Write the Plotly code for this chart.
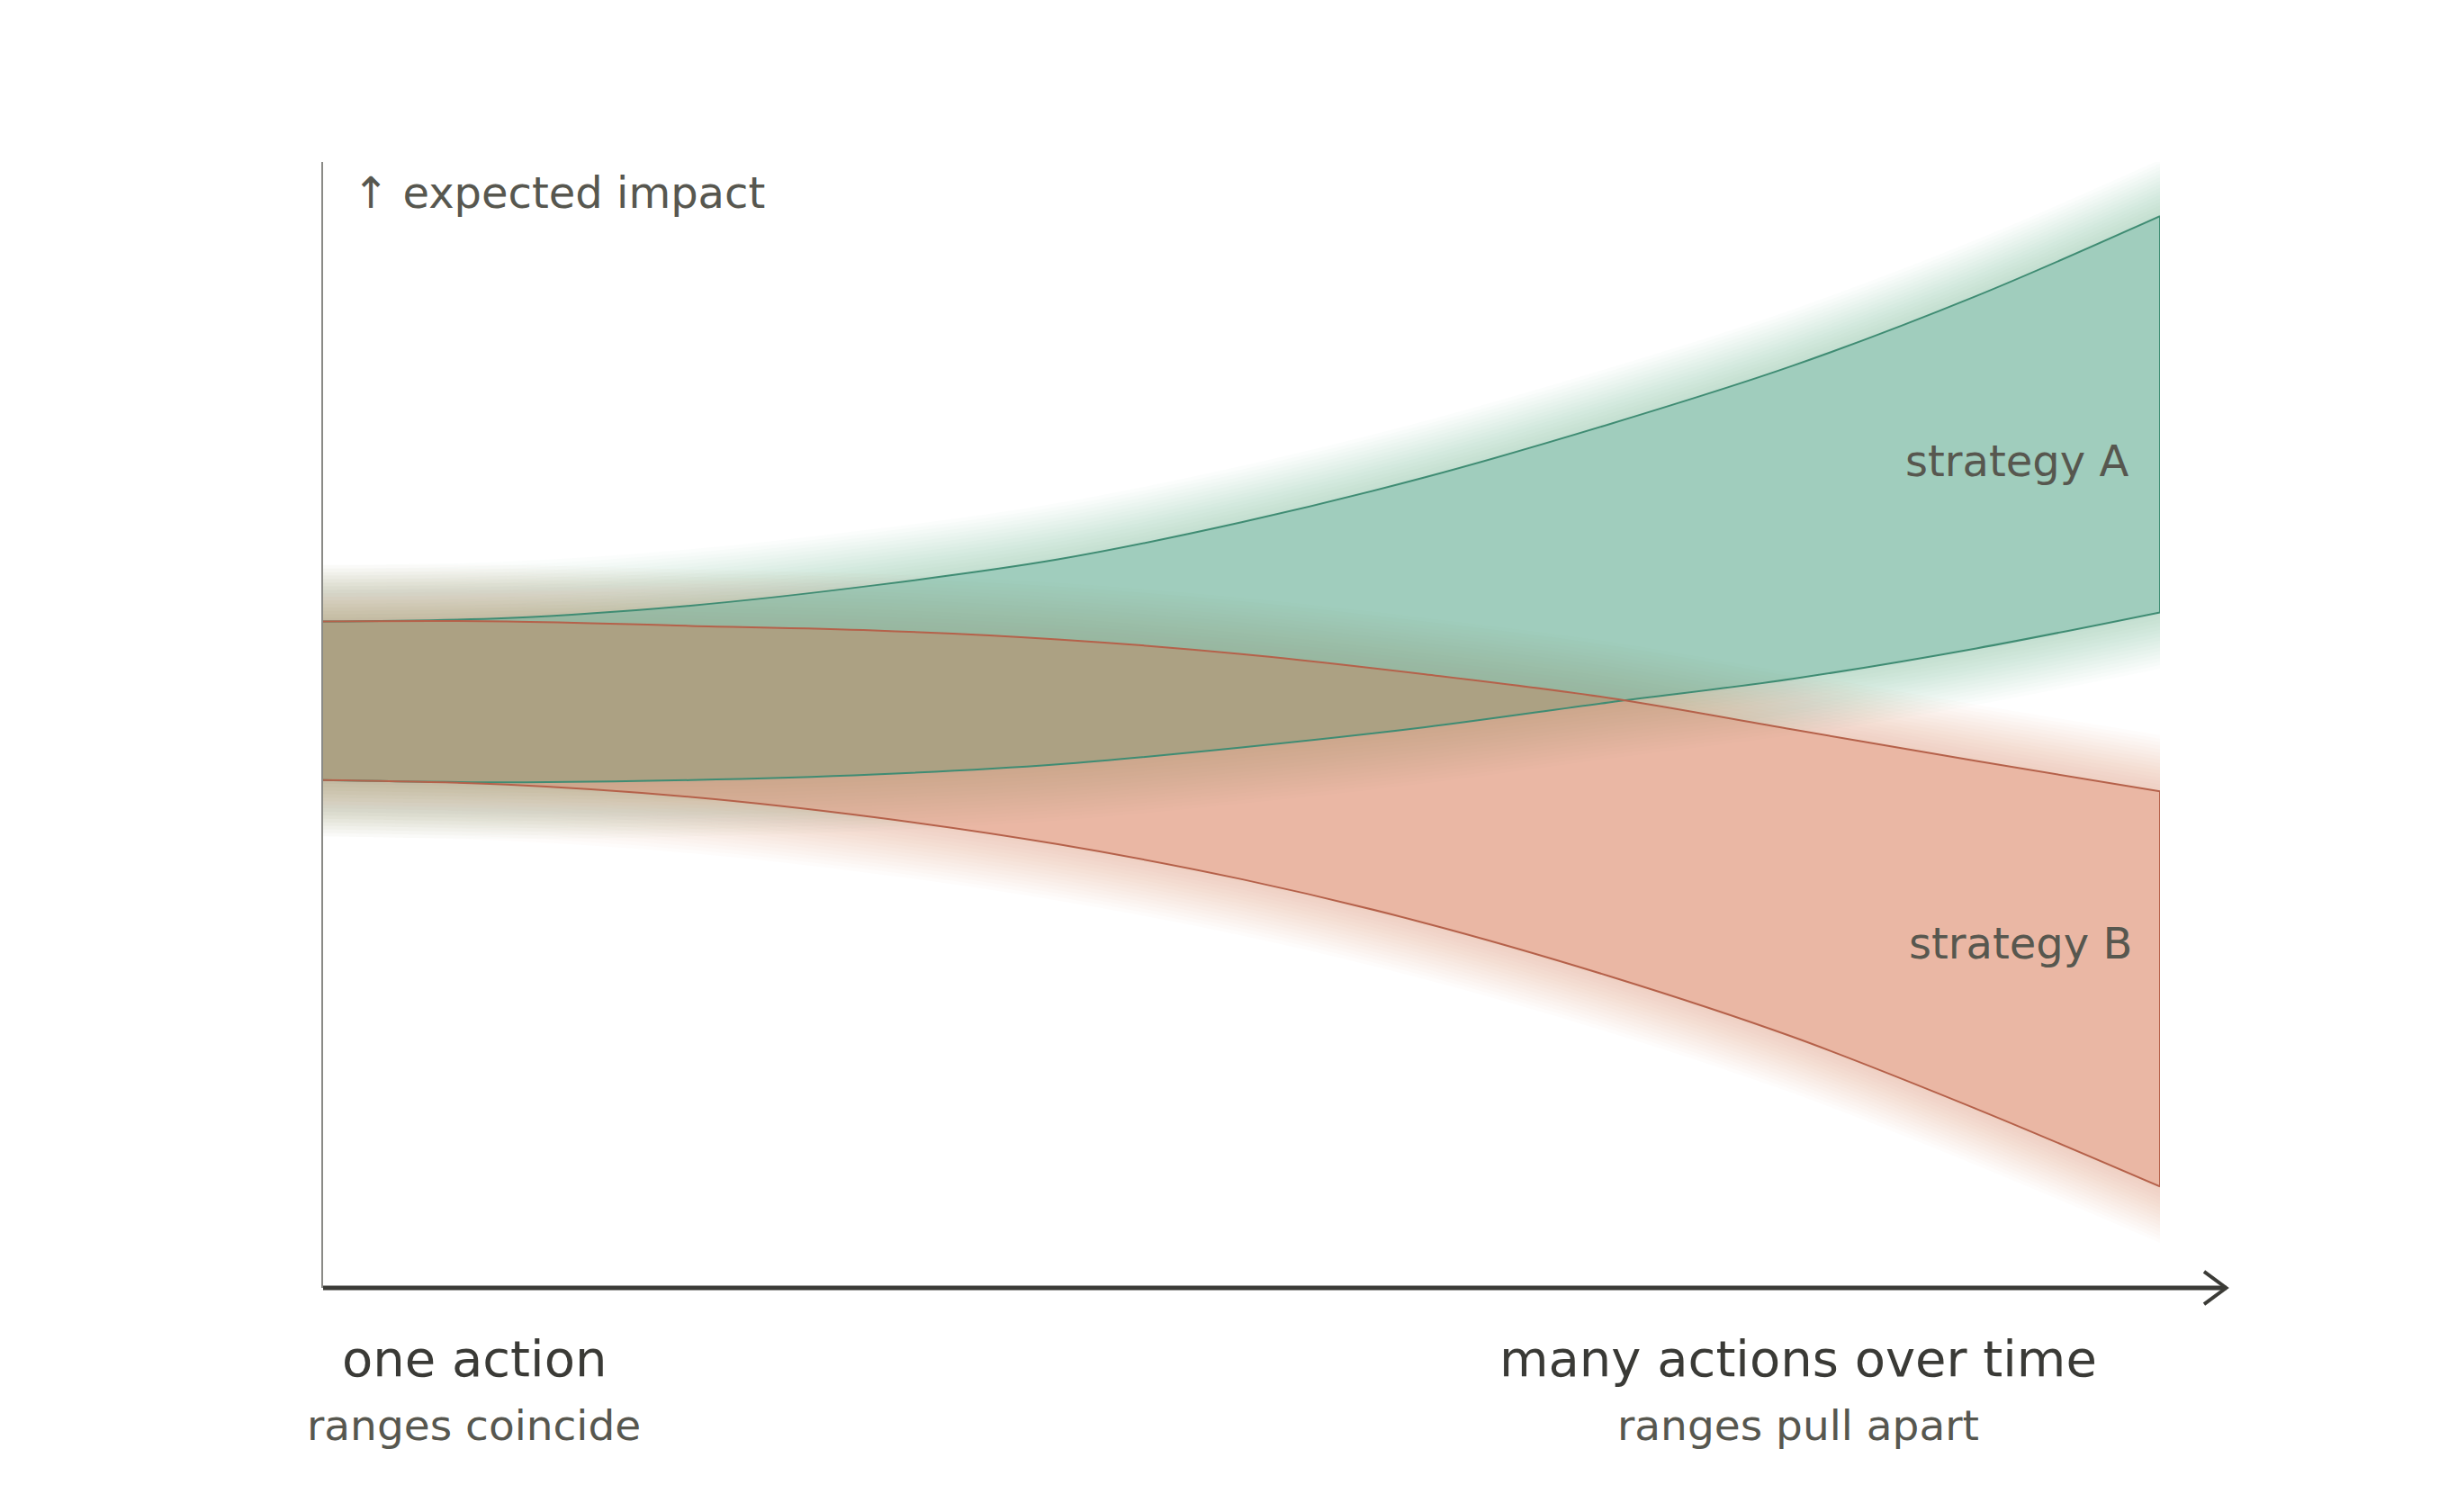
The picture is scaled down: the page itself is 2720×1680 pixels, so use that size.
import plotly.graph_objects as go

# x positions along the horizontal axis (one action -> many actions)
steps = [0, 1, 2, 3, 4, 5, 6, 7, 8, 9, 10]

# expected impact ranges (0 = x axis, 100 = top of y axis)
a_top = [59.2, 59.5, 60.6, 62.4, 64.7, 68.0, 72.0, 76.7, 81.9, 88.1, 95.2]
a_bot = [45.1, 44.9, 45.1, 45.6, 46.5, 48.0, 49.8, 52.0, 54.1, 56.8, 60.0]
b_top = [59.2, 59.2, 58.8, 58.4, 57.6, 56.3, 54.5, 52.4, 49.6, 46.8, 44.1]
b_bot = [45.1, 44.7, 43.6, 41.8, 39.4, 36.3, 32.4, 27.7, 22.3, 15.9, 9.0]

green_glow = (65, 157, 123)
red_glow = (216, 122, 88)
green_under = "rgba(2,195,202,0.30)"     # first green layer
red_fill = "rgba(213,111,73,0.50)"
green_over = "rgba(116,134,73,0.30)"     # second green layer, gives the olive overlap
green_line = "#3f8c73"
red_line = "#b5614a"

fig = go.Figure()


def glow(edge, direction, rgb, width=5.0, layers=16, alpha=0.024):
    # soft halo outside a band edge: nested translucent strips
    for k in range(1, layers + 1):
        off = [v + direction * width * k / layers for v in edge]
        fig.add_trace(go.Scatter(x=steps, y=edge, mode="lines",
                                 line=dict(width=0, shape="spline"),
                                 hoverinfo="skip", showlegend=False))
        fig.add_trace(go.Scatter(x=steps, y=off, mode="lines",
                                 line=dict(width=0, shape="spline"),
                                 fill="tonexty",
                                 fillcolor="rgba(%d,%d,%d,%.3f)" % (rgb + (alpha,)),
                                 hoverinfo="skip", showlegend=False))


glow(a_top, 1, green_glow)
glow(a_bot, -1, green_glow)
glow(b_top, 1, red_glow)
glow(b_bot, -1, red_glow)


def band(top, bot, color):
    fig.add_trace(go.Scatter(x=steps, y=bot, mode="lines",
                             line=dict(width=0, shape="spline"),
                             hoverinfo="skip", showlegend=False))
    fig.add_trace(go.Scatter(x=steps, y=top, mode="lines",
                             line=dict(width=0, shape="spline"),
                             fill="tonexty", fillcolor=color,
                             hoverinfo="skip", showlegend=False))


band(a_top, a_bot, green_under)
band(b_top, b_bot, red_fill)
band(a_top, a_bot, green_over)


def edges(top, bot, color):
    for ys in (top, bot):
        fig.add_trace(go.Scatter(x=steps, y=ys, mode="lines",
                                 line=dict(color=color, width=2, shape="spline"),
                                 hoverinfo="skip", showlegend=False))
    fig.add_trace(go.Scatter(x=[steps[-1], steps[-1]], y=[top[-1], bot[-1]],
                             mode="lines", line=dict(color=color, width=2),
                             hoverinfo="skip", showlegend=False))


edges(a_top, a_bot, green_line)
edges(b_top, b_bot, red_line)

# x axis with open arrow head
axis_col = "#3b3b37"
tip = 1.036
fig.add_shape(type="line", xref="paper", yref="paper", x0=0, x1=tip, y0=0, y1=0,
              line=dict(color=axis_col, width=5))
fig.add_shape(type="path", xref="paper", yref="paper",
              path="M %f,%f L %f,0 L %f,%f" % (tip - 0.012, 0.0145, tip, tip - 0.012, -0.0145),
              line=dict(color=axis_col, width=4))

txt = "#57574f"
fig.add_annotation(text="↑ expected impact", xref="paper", yref="paper",
                   x=0.0152, y=0.973, xanchor="left", yanchor="middle",
                   showarrow=False, font=dict(size=48, color=txt))
fig.add_annotation(text="strategy A", xref="paper", yref="paper",
                   x=0.9838, y=0.7346, xanchor="right", yanchor="middle",
                   showarrow=False, font=dict(size=48, color=txt))
fig.add_annotation(text="strategy B", xref="paper", yref="paper",
                   x=0.9858, y=0.3062, xanchor="right", yanchor="middle",
                   showarrow=False, font=dict(size=48, color=txt))

ends = [("one action", "ranges coincide", 0.0823),
        ("many actions over time", "ranges pull apart", 0.803)]
for head, sub, px in ends:
    fig.add_annotation(text=head, xref="paper", yref="paper", x=px, y=-0.0624,
                       xanchor="center", yanchor="middle", showarrow=False,
                       font=dict(size=56, color="#3a3a36"))
    fig.add_annotation(text=sub, xref="paper", yref="paper", x=px, y=-0.1223,
                       xanchor="center", yanchor="middle", showarrow=False,
                       font=dict(size=47, color=txt))

fig.update_xaxes(range=[0, 10], showline=False, showgrid=False, zeroline=False,
                 showticklabels=False, ticks="")
fig.update_yaxes(range=[0, 100], showline=True, linecolor="#8a8a86", linewidth=2,
                 showgrid=False, zeroline=False, showticklabels=False, ticks="")
# page body adds an 8px margin, so the figure is 8px smaller than the window
fig.update_layout(width=2712, height=1672,
                  margin=dict(l=351, r=320, t=172, b=249),
                  paper_bgcolor="white", plot_bgcolor="white",
                  font=dict(family="DejaVu Sans"), showlegend=False)

fig.write_html("out.html")
